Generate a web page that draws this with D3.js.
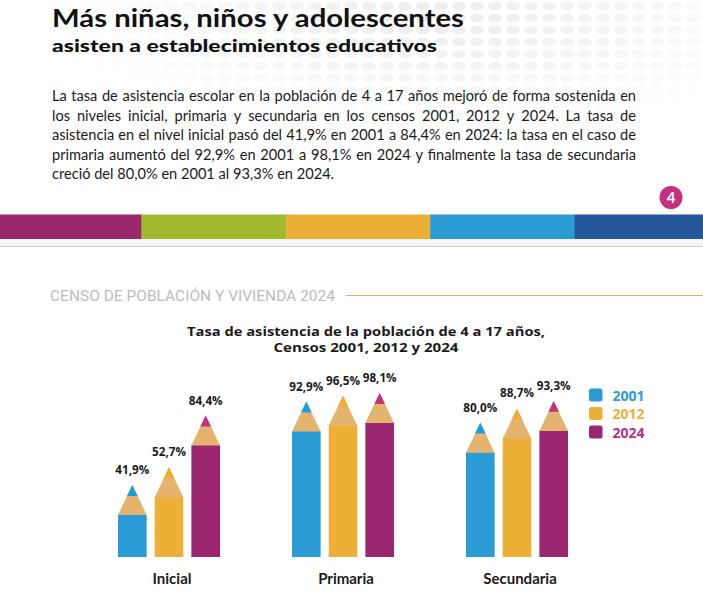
<!DOCTYPE html>
<html>
<head>
<meta charset="utf-8">
<script src="https://cdn.jsdelivr.net/npm/d3@7"></script>
<style>
  body { margin: 0; background: #fff; }
  svg { display: block; }
</style>
</head>
<body>
<div id="chart"></div>
<script>
// data
var categories = ["Inicial", "Primaria", "Secundaria"];
var years = ["2001", "2012", "2024"];
var rate2001 = [41.9, 92.9, 80.0];
var rate2012 = [52.7, 96.5, 88.7];
var rate2024 = [84.4, 98.1, 93.3];

var titleText = "Más niñas, niños y adolescentes";
var subtitleText = "asisten a establecimientos educativos";
var bodyLines = [
    "La tasa de asistencia escolar en la población de 4 a 17 años mejoró de forma sostenida en",
    "los niveles inicial, primaria y secundaria en los censos 2001, 2012 y 2024. La tasa de",
    "asistencia en el nivel inicial pasó del 41,9% en 2001 a 84,4% en 2024: la tasa en el caso de",
    "primaria aumentó del 92,9% en 2001 a 98,1% en 2024 y finalmente la tasa de secundaria",
    "creció del 80,0% en 2001 al 93,3% en 2024."
];
var sectionText = "CENSO DE POBLACIÓN Y VIVIENDA 2024";
var chartTitleLines = ["Tasa de asistencia de la población de 4 a 17 años,", "Censos 2001, 2012 y 2024"];
var pageNumber = "4";

var width = 703, height = 605;

var stripeColors = ["#9b276f", "#a0b92e", "#edb036", "#2b9bd6", "#25589a"];
var bodyColors = ["#2b9bd6", "#edb036", "#9a276f"];
var tipColors = ["#179fdb", "#edb036", "#c2307f"];
var legendTextColors = ["#2b9bd6", "#edb036", "#b93081"];
var coneColor = "#e4b46f";

var svg = d3.select("#chart").append("svg")
    .attr("width", width)
    .attr("height", height);

// faint dotted background in the header
var defs = svg.append("defs");
var pat = defs.append("pattern")
    .attr("id", "dots")
    .attr("width", 18).attr("height", 12)
    .attr("patternUnits", "userSpaceOnUse");
pat.append("ellipse")
    .attr("cx", 9).attr("cy", 6).attr("rx", 7).attr("ry", 4.2)
    .attr("fill", "#ececec");
var grad = defs.append("radialGradient")
    .attr("id", "fade")
    .attr("cx", 0.62).attr("cy", 0.1).attr("r", 0.55);
grad.append("stop").attr("offset", "0%").attr("stop-color", "#fff").attr("stop-opacity", 1);
grad.append("stop").attr("offset", "100%").attr("stop-color", "#fff").attr("stop-opacity", 0);
defs.append("mask").attr("id", "fadeMask")
    .append("rect")
    .attr("x", 0).attr("y", 0).attr("width", width).attr("height", 200)
    .attr("fill", "url(#fade)");
svg.append("rect")
    .attr("x", 0).attr("y", 0).attr("width", width).attr("height", 200)
    .attr("fill", "url(#dots)")
    .attr("mask", "url(#fadeMask)");

// header; glyphs are stretched a little since Lato runs narrower than the original face
svg.append("text")
    .attr("x", 52).attr("y", 26.5)
    .attr("font-family", "Lato, sans-serif")
    .attr("font-weight", 700)
    .attr("font-size", 25.5)
    .attr("fill", "#111")
    .attr("textLength", 412)
    .attr("lengthAdjust", "spacingAndGlyphs")
    .text(titleText);

svg.append("text")
    .attr("x", 52).attr("y", 51.5)
    .attr("font-family", "Lato, sans-serif")
    .attr("font-weight", 900)
    .attr("font-size", 17.5)
    .attr("fill", "#111")
    .attr("textLength", 385)
    .attr("lengthAdjust", "spacingAndGlyphs")
    .text(subtitleText);

// justified paragraph
var bodyLeft = 52, bodyWidth = 584, bodyTop = 101, bodyStep = 19.6;
var bodyFont = 14.6;
var measure = svg.append("text")
    .attr("font-family", "Lato, sans-serif")
    .attr("font-size", bodyFont);
function wordWidth(w) {
    measure.text(w);
    return measure.node().getComputedTextLength();
}
var spaceWidth = wordWidth("a a") - wordWidth("aa");

var body = svg.append("g")
    .attr("font-family", "Lato, sans-serif")
    .attr("font-size", bodyFont)
    .attr("fill", "#1a1a1a");

bodyLines.forEach(function (line, li) {
    var words = line.split(" ");
    var widths = words.map(wordWidth);
    var total = d3.sum(widths);
    var gap = li < bodyLines.length - 1
        ? (bodyWidth - total) / (words.length - 1)
        : spaceWidth;
    var t = body.append("text").attr("y", bodyTop + li * bodyStep);
    var x = bodyLeft;
    words.forEach(function (w, wi) {
        t.append("tspan").attr("x", x).text(w);
        x += widths[wi] + gap;
    });
});
measure.remove();

// page number badge
svg.append("circle")
    .attr("cx", 671).attr("cy", 197.5).attr("r", 11.5)
    .attr("fill", "#c5307f");
svg.append("text")
    .attr("x", 671).attr("y", 203)
    .attr("text-anchor", "middle")
    .attr("font-family", "Lato, sans-serif")
    .attr("font-weight", 700)
    .attr("font-size", 15)
    .attr("fill", "#fff")
    .text(pageNumber);

// coloured stripe
var stripeX = d3.scaleBand()
    .domain(d3.range(stripeColors.length))
    .range([-3, 719]);
svg.append("g").selectAll("rect")
    .data(stripeColors)
    .enter().append("rect")
    .attr("x", function (d, i) { return stripeX(i); })
    .attr("y", 214.5)
    .attr("width", stripeX.bandwidth() + 0.5)
    .attr("height", 24.5)
    .attr("fill", function (d) { return d; });
svg.append("rect")
    .attr("x", 0).attr("y", 239).attr("width", width).attr("height", 7)
    .attr("fill", "#f6f6f6");
svg.append("line")
    .attr("x1", 0).attr("x2", width)
    .attr("y1", 246.5).attr("y2", 246.5)
    .attr("stroke", "#cfcfcf").attr("stroke-width", 1.2);

// section header
svg.append("text")
    .attr("x", 50).attr("y", 300.5)
    .attr("font-family", "Roboto, sans-serif")
    .attr("font-size", 14)
    .attr("fill", "#bdbdbd")
    .attr("textLength", 285)
    .attr("lengthAdjust", "spacingAndGlyphs")
    .text(sectionText);
svg.append("line")
    .attr("x1", 346).attr("x2", width)
    .attr("y1", 295.5).attr("y2", 295.5)
    .attr("stroke", "#e6b14c").attr("stroke-width", 1.2);

// chart title
var ct = svg.append("g")
    .attr("font-family", "'Open Sans', sans-serif")
    .attr("font-weight", 700)
    .attr("font-size", 12.5)
    .attr("fill", "#1b1b1b")
    .attr("text-anchor", "middle");
ct.append("text").attr("x", 366).attr("y", 335.5)
    .attr("textLength", 358).attr("lengthAdjust", "spacingAndGlyphs")
    .text(chartTitleLines[0]);
ct.append("text").attr("x", 366).attr("y", 351.5)
    .attr("textLength", 185).attr("lengthAdjust", "spacingAndGlyphs")
    .text(chartTitleLines[1]);

// pencils
var series = [rate2001, rate2012, rate2024];
var baseline = 557;

var x0 = d3.scalePoint()
    .domain(categories)
    .range([169, 517]);
var x1 = d3.scaleBand()
    .domain(years)
    .range([-51, 51])
    .paddingInner(0.22);
var y = d3.scaleLinear()
    .domain([0, 100])
    .range([553.5, 390]);

var bw = x1.bandwidth();
var coneH = bw * 1.03;
var tipFrac = 0.37;
var fmt = function (v) { return v.toFixed(1).replace(".", ",") + "%"; };

var groups = svg.append("g").selectAll("g")
    .data(categories)
    .enter().append("g")
    .attr("transform", function (d) { return "translate(" + x0(d) + ",0)"; });

groups.each(function (cat, ci) {
    var g = d3.select(this);
    var rows = years.map(function (yr, si) {
        return { year: yr, si: si, value: series[si][ci] };
    });

    var pencil = g.selectAll("g.pencil")
        .data(rows)
        .enter().append("g")
        .attr("class", "pencil");

    pencil.append("rect")
        .attr("x", function (d) { return x1(d.year); })
        .attr("y", function (d) { return y(d.value) + coneH; })
        .attr("width", bw)
        .attr("height", function (d) { return baseline - y(d.value) - coneH; })
        .attr("fill", function (d) { return bodyColors[d.si]; });

    pencil.append("path")
        .attr("fill", coneColor)
        .attr("d", function (d) {
            var l = x1(d.year), t = y(d.value);
            return d3.line()([[l, t + coneH + 0.5], [l + bw, t + coneH + 0.5], [l + bw / 2, t]]);
        });

    pencil.append("path")
        .attr("fill", function (d) { return tipColors[d.si]; })
        .attr("d", function (d) {
            var c = x1(d.year) + bw / 2, t = y(d.value);
            var half = bw / 2 * tipFrac;
            return d3.line()([[c - half, t + coneH * tipFrac], [c + half, t + coneH * tipFrac], [c, t]]);
        });

    // value labels, narrowed so neighbours don't collide
    pencil.append("text")
        .attr("x", function (d) { return x1(d.year) + bw / 2; })
        .attr("y", function (d) { return y(d.value) - 11; })
        .attr("text-anchor", "middle")
        .attr("font-family", "'Open Sans', sans-serif")
        .attr("font-weight", 700)
        .attr("font-size", 12)
        .attr("fill", "#1b1b1b")
        .attr("textLength", 34)
        .attr("lengthAdjust", "spacingAndGlyphs")
        .text(function (d) { return fmt(d.value); });

    g.append("text")
        .attr("x", 3)
        .attr("y", 584)
        .attr("text-anchor", "middle")
        .attr("font-family", "Lato, sans-serif")
        .attr("font-weight", 700)
        .attr("font-size", 15)
        .attr("fill", "#1b1b1b")
        .text(cat);
});

// legend
var legend = svg.append("g").selectAll("g")
    .data(years)
    .enter().append("g")
    .attr("transform", function (d, i) { return "translate(589," + (395 + i * 18.5) + ")"; });
legend.append("rect")
    .attr("x", 0).attr("y", -6.5)
    .attr("width", 13.5).attr("height", 13)
    .attr("rx", 2.5)
    .attr("fill", function (d, i) { return bodyColors[i]; });
legend.append("text")
    .attr("x", 23.5).attr("y", 5.5)
    .attr("font-family", "'Open Sans', sans-serif")
    .attr("font-weight", 700)
    .attr("font-size", 14)
    .attr("fill", function (d, i) { return legendTextColors[i]; })
    .text(function (d) { return d; });
</script>
</body>
</html>
